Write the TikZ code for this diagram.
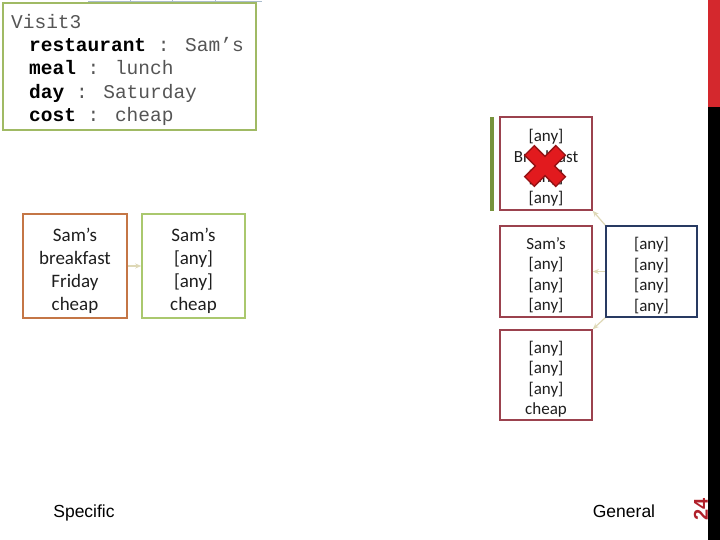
\documentclass[tikz,border=0pt]{standalone}
\usepackage{fontspec}
\setmainfont{Carlito}
\newfontfamily\monofont{Liberation Mono}
\newfontfamily\arialfont{Liberation Sans}
\usetikzlibrary{arrows.meta,calc}
\definecolor{visgreen}{RGB}{160,186,100}
\definecolor{orbox}{RGB}{196,118,70}
\definecolor{ltgreen}{RGB}{170,200,110}
\definecolor{redbox}{RGB}{155,66,78}
\definecolor{navybox}{RGB}{40,58,98}
\definecolor{arrcol}{RGB}{222,216,182}
\definecolor{barGreen}{RGB}{119,147,60}
\definecolor{barRed}{RGB}{212,40,45}
\definecolor{numRed}{RGB}{176,32,42}
\definecolor{xred}{RGB}{226,26,30}
\definecolor{xdark}{RGB}{150,18,20}
\definecolor{monogray}{RGB}{85,85,85}
\definecolor{txt}{RGB}{30,30,30}
\definecolor{topline}{RGB}{170,188,205}
\begin{document}
\begin{tikzpicture}[x=1pt,y=-1pt,
  bigbox/.style={draw,line width=1.6pt,minimum width=104pt,minimum height=104pt,inner sep=0pt},
  bigtext/.style={inner sep=0pt,align=center,text=txt,font=\fontsize{19}{23}\selectfont},
  smallbox/.style={draw,line width=1.6pt,minimum width=92pt,minimum height=91pt,inner sep=0pt},
  smalltext/.style={inner sep=0pt,align=center,text=txt,font=\fontsize{17}{20.5}\selectfont},
  mline/.style={anchor=base west,inner sep=0pt,font=\monofont\fontsize{19.5}{22}\selectfont,text=monogray},
  arr/.style={draw=arrcol,line width=1.2pt,-{Stealth[length=6pt,width=5pt]}},
  lab/.style={font=\arialfont\fontsize{17.5}{20}\selectfont,inner sep=0pt}
]
\useasboundingbox (0,0) rectangle (720,540);
\fill[white] (0,0) rectangle (720,540);

% top cut-off table edge
\draw[topline,line width=0.8pt] (88,1) -- (262,1);
\foreach \xx in {130,172,215} \draw[topline,line width=0.6pt] (\xx,0) -- (\xx,2);

% Visit3 box
\node[draw=visgreen,line width=1.8pt,minimum width=253pt,minimum height=127pt,inner sep=0pt] (visit) at (129.5,66.5) {};
\node[mline] (v0) at (11,29) {Visit3};
\node[mline] (v1) at (29,51.5) {\textcolor{black}{\bfseries restaurant} : Sam’s};
\node[mline] (v2) at (29,75) {\textcolor{black}{\bfseries meal} : lunch};
\node[mline] (v3) at (29,98.5) {\textcolor{black}{\bfseries day} : Saturday};
\node[mline] (v4) at (29,121.5) {\textcolor{black}{\bfseries cost} : cheap};

% left boxes
\node[bigbox,draw=orbox] (l1) at (75,266) {};
\node[bigtext] (l1t) at ($(l1)+(0,5)$) {Sam’s\\breakfast\\Friday\\cheap};
\node[bigbox,draw=ltgreen,minimum width=103pt] (l2) at (193.5,266) {};
\node[bigtext] (l2t) at ($(l2)+(0,5)$) {Sam’s\\{[}any{]}\\{[}any{]}\\cheap};
\draw[arr] (l1.east) -- (l2.west);

% right boxes
\node[smallbox,draw=redbox,minimum height=93pt] (top) at (546,163.5) {};
\node[smalltext] (topt) at ($(top)+(0,4)$) {{[}any{]}\\Breakfast\\{[}any{]}\\{[}any{]}};
\node[smallbox,draw=redbox] (mid) at (546,271.5) {};
\node[smalltext] (midt) at ($(mid)+(0,4)$) {Sam’s\\{[}any{]}\\{[}any{]}\\{[}any{]}};
\node[smallbox,draw=navybox,minimum width=91pt] (gen) at (651.5,271.5) {};
\node[smalltext] (gent) at ($(gen)+(0,4)$) {{[}any{]}\\{[}any{]}\\{[}any{]}\\{[}any{]}};
\node[smallbox,draw=redbox,minimum height=90pt] (bot) at (546,375) {};
\node[smalltext] (bott) at ($(bot)+(0,4)$) {{[}any{]}\\{[}any{]}\\{[}any{]}\\cheap};
\draw[arr] (gen.west) -- (mid.east);
\draw[arr] (gen.north west) -- (top.south east);
\draw[arr] (gen.south west) -- (bot.north east);

% green bar
\fill[barGreen] (489.5,117) rectangle (494,211);

% red X
\coordinate (xc) at (545,166);
\draw[xdark,line width=15pt] ($(xc)+(-16,-16)$) -- ($(xc)+(16,16)$);
\draw[xdark,line width=15pt] ($(xc)+(16,-16)$) -- ($(xc)+(-16,16)$);
\draw[xred,line width=12pt] ($(xc)+(-15,-15)$) -- ($(xc)+(15,15)$);
\draw[xred,line width=12pt] ($(xc)+(15,-15)$) -- ($(xc)+(-15,15)$);

% right edge bars
\fill[barRed] (708,0) rectangle (720,107);
\fill[black] (708,107) rectangle (720,540);
\node[font=\arialfont\bfseries\fontsize{20}{22}\selectfont,text=numRed,rotate=90,inner sep=0pt] (num) at (701,509) {24};

% labels
\node[lab] (spec) at (84,513) {Specific};
\node[lab] (gen2) at (624,511) {General};
\end{tikzpicture}
\end{document}
